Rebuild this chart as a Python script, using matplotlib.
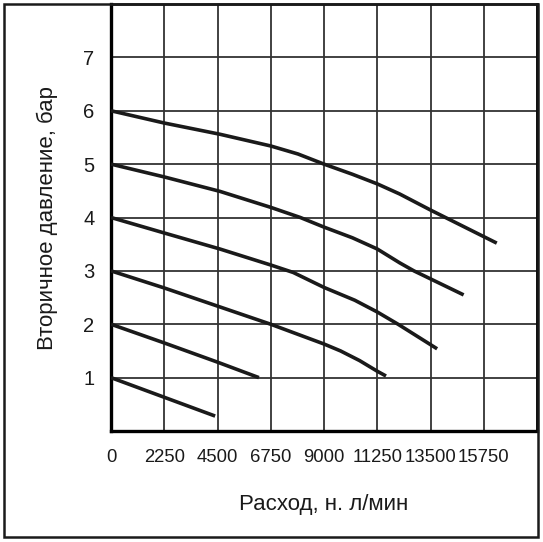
import numpy as np
import matplotlib.pyplot as plt
from matplotlib.patches import Rectangle

plt.rcParams['font.family'] = ['Liberation Sans', 'DejaVu Sans']

# расход, н. л/мин  and  вторичное давление, бар
x1 = [0, 4400]
y1 = [1.0, 0.28]
x2 = [0, 2250, 4500, 6250]
y2 = [2.0, 1.65, 1.29, 1.0]
x3 = [0, 2250, 4500, 6750, 9000, 9700, 10500, 11250, 11620]
y3 = [3.0, 2.68, 2.34, 2.0, 1.63, 1.5, 1.32, 1.12, 1.03]
x4 = [0, 2250, 4600, 6750, 7700, 9000, 10300, 11250, 12130, 13780]
y4 = [4.0, 3.71, 3.41, 3.11, 2.97, 2.69, 2.45, 2.23, 2.0, 1.54]
x5 = [0, 2250, 4600, 6750, 8000, 9000, 10200, 11250, 12200, 12800, 14900]
y5 = [5.0, 4.76, 4.49, 4.19, 4.0, 3.82, 3.62, 3.41, 3.15, 3.0, 2.55]
x6 = [0, 2250, 4600, 6750, 7900, 9000, 10200, 11250, 12200, 13500, 16300]
y6 = [6.0, 5.77, 5.56, 5.34, 5.19, 5.0, 4.81, 4.63, 4.44, 4.14, 3.52]

xticks = [0, 2250, 4500, 6750, 9000, 11250, 13500, 15750]
yticks = [1, 2, 3, 4, 5, 6, 7]

fig = plt.figure(figsize=(5.43, 5.42), dpi=100)
ax = fig.add_axes([111/543, 111/542, 426/543, 427/542])

for xs, ys in [(x1, y1), (x2, y2), (x3, y3), (x4, y4), (x5, y5), (x6, y6)]:
    ax.plot(xs, ys, color='#1a1a1a', lw=2.6, solid_capstyle='butt',
            solid_joinstyle='round', zorder=3)

ax.set_xlim(0, 18000)
ax.set_ylim(0, 8)
ax.set_xticks(np.arange(0, 18001, 2250))
ax.set_yticks(np.arange(0, 9, 1))
ax.set_xticklabels([str(v) if v in xticks else '' for v in np.arange(0, 18001, 2250)])
ax.set_yticklabels([str(v) if v in yticks else '' for v in range(9)])
ax.grid(True, color='#333333', lw=1.3, zorder=1)
ax.tick_params(length=0, colors='#1a1a1a')
ax.tick_params(axis='x', pad=13, labelsize=13.3)
ax.tick_params(axis='y', pad=12, labelsize=14.5)
for s in ['left', 'bottom']:
    ax.spines[s].set_linewidth(2.4)
for s in ['top', 'right']:
    ax.spines[s].set_linewidth(1.8)

ax.set_xlabel('Расход, н. л/мин', fontsize=16, labelpad=20, color='#1a1a1a')
ax.set_ylabel('Вторичное давление, бар', fontsize=16, labelpad=18, color='#1a1a1a')

fig.patches.append(Rectangle((4/543, 5/542), 534/543, 533/542, transform=fig.transFigure,
                             fill=False, lw=1.8, edgecolor='#1a1a1a'))

fig.savefig('out.png', dpi=100)
